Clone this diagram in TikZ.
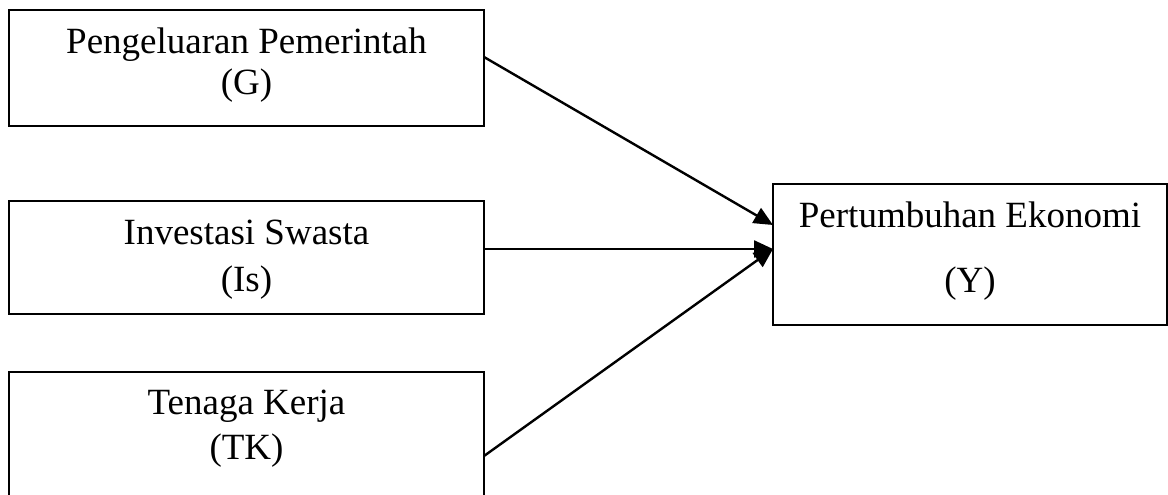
\documentclass[tikz,border=0pt]{standalone}
\usepackage{fontspec}
\setmainfont{Liberation Serif}
\usetikzlibrary{arrows.meta}
\begin{document}
\begin{tikzpicture}[x=1pt,y=1pt,
  box/.style={draw=black, line width=2pt, rectangle, inner sep=0pt, outer sep=0pt},
  lbl/.style={anchor=base, inner sep=0pt, font=\fontsize{37}{44}\selectfont},
  arr/.style={line width=2.4pt, -{Triangle[length=19pt,width=17pt]}}]
\clip (0,0) rectangle (1168,495);
\fill[white] (0,0) rectangle (1168,495);
% boxes
\node[box, minimum width=475pt, minimum height=116pt] (g) at (246.5,427) {};
\node[box, minimum width=475pt, minimum height=113pt] (is) at (246.5,237.5) {};
\node[box, minimum width=475pt, minimum height=133pt] (tk) at (246.5,56.5) {};
\node[box, minimum width=394pt, minimum height=141pt] (y) at (970,240.5) {};
% labels
\node[lbl] (g1) at (246.5,441) {Pengeluaran Pemerintah};
\node[lbl] (g2) at (246.5,400) {(G)};
\node[lbl] (is1) at (246.5,250) {Investasi Swasta};
\node[lbl] (is2) at (246.5,203.5) {(Is)};
\node[lbl] (tk1) at (246.5,80) {Tenaga Kerja};
\node[lbl] (tk2) at (246.5,35) {(TK)};
\node[lbl] (y1) at (970,267) {Pertumbuhan Ekonomi};
\node[lbl] (y2) at (970,202) {(Y)};
% arrows
\draw[arr] ([yshift=11pt]g.east) -- ([yshift=29.5pt]y.west);
\draw[arr] ([yshift=8.5pt]is.east) -- ([yshift=5.5pt]y.west);
\draw[arr] ([yshift=-17.5pt]tk.east) -- ([yshift=5.5pt]y.west);
\end{tikzpicture}
\end{document}
